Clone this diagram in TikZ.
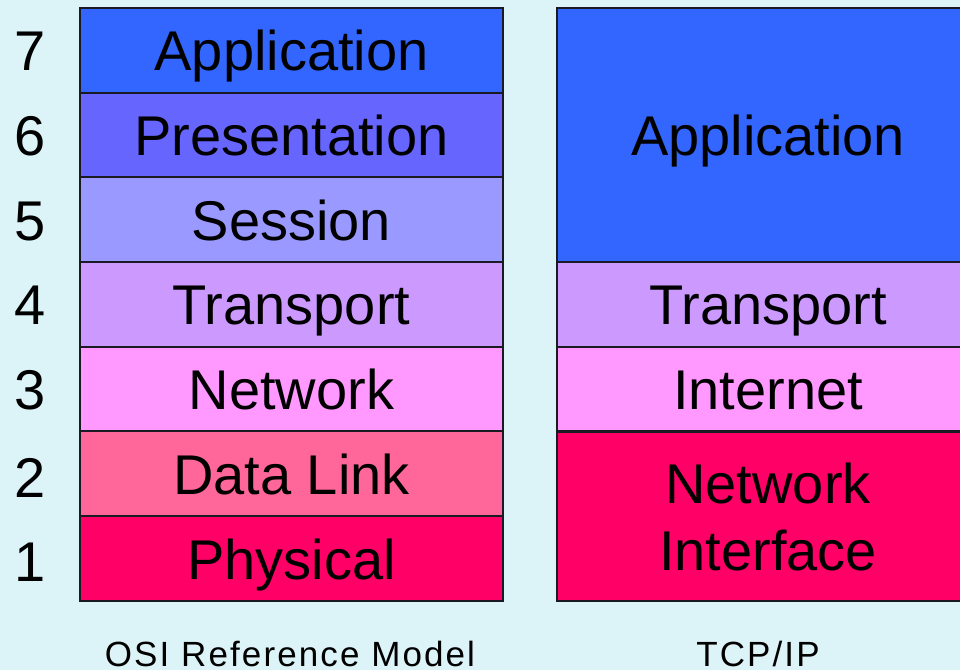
\documentclass[tikz,border=0pt]{standalone}
\usepackage{fontspec}
\setmainfont{Liberation Sans}
\definecolor{bg}{HTML}{DCF3F7}
\definecolor{cApp}{HTML}{3366FF}
\definecolor{cPres}{HTML}{6666FF}
\definecolor{cSess}{HTML}{9999FF}
\definecolor{cTrans}{HTML}{CC99FF}
\definecolor{cNet}{HTML}{FF99FF}
\definecolor{cData}{HTML}{FF6699}
\definecolor{cPhys}{HTML}{FF0066}
\definecolor{edge}{HTML}{1A1A22}
\tikzset{
  layer/.style={draw=edge, line width=2pt, minimum width=423pt, inner sep=0pt,
    font=\fontsize{56}{67}\selectfont, text height=41pt, text depth=0pt},
  tcpbox/.style={draw=edge, line width=2pt, minimum width=422pt, inner sep=0pt},
  bigtext/.style={font=\fontsize{56}{67}\selectfont, inner sep=0pt, align=center},
  num/.style={font=\fontsize{56}{67}\selectfont, inner sep=0pt, text height=41pt, text depth=0pt},
  caption/.style={font=\fontsize{35}{40}\selectfont\addfontfeatures{LetterSpace=6}, inner sep=0pt, anchor=base}
}
\begin{document}
\begin{tikzpicture}[x=1pt,y=-1pt]
\useasboundingbox (0,0) rectangle (960,670);
\fill[bg] (0,0) rectangle (960,670);
\begin{scope}
\clip (0,0) rectangle (960,670);
% OSI column
\node[layer, fill=cApp,   minimum height=84.7pt] (o7) at (291.5,50.3)  {Application};
\node[layer, fill=cPres,  minimum height=84.7pt] (o6) at (291.5,135)   {Presentation};
\node[layer, fill=cSess,  minimum height=84.7pt] (o5) at (291.5,219.7) {Session};
\node[layer, fill=cTrans, minimum height=84.7pt] (o4) at (291.5,304.4) {Transport};
\node[layer, fill=cNet,   minimum height=84.7pt] (o3) at (291.5,389.1) {Network};
\node[layer, fill=cData,  minimum height=84.7pt] (o2) at (291.5,473.8) {Data Link};
\node[layer, fill=cPhys,  minimum height=84.7pt] (o1) at (291.5,558.5) {Physical};
% numbers
\node[num] (n7) at (30,50.3)  {7};
\node[num] (n6) at (30,135)   {6};
\node[num] (n5) at (30,219.7) {5};
\node[num] (n4) at (30,304.4) {4};
\node[num] (n3) at (30,389.1) {3};
\node[num] (n2) at (30,476.5) {2};
\node[num] (n1) at (30,561) {1};
% TCP/IP column
\node[tcpbox, fill=cApp,   minimum height=254.1pt] (t4) at (768,135) {};
\node[bigtext, text height=41pt, text depth=0pt] (t4t) at (768,135) {Application};
\node[tcpbox, fill=cTrans, minimum height=84.7pt] (t3) at (768,304.4) {};
\node[bigtext, text height=41pt, text depth=0pt] (t3t) at (768,304.4) {Transport};
\node[tcpbox, fill=cNet,   minimum height=84.7pt] (t2) at (768,389.1) {};
\node[bigtext, text height=41pt, text depth=0pt] (t2t) at (768,389.1) {Internet};
\node[tcpbox, fill=cPhys,  minimum height=169.4pt] (t1) at (768,516.2) {};
\node[bigtext] (t1t) at (768,516.5) {Network\\Interface};
% captions
\node[caption] (osi) at (290,666) {OSI Reference Model};
\node[caption] (tcp) at (758,666) {TCP/IP};
\end{scope}
\end{tikzpicture}
\end{document}
